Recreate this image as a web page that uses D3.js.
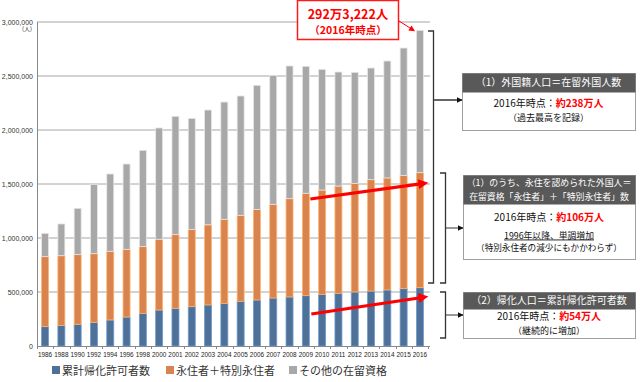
<!DOCTYPE html>
<html><head><meta charset="utf-8">
<script src="https://cdn.jsdelivr.net/npm/d3@7"></script>
<style>body{margin:0;background:#fff} svg{display:block}</style>
</head><body><svg id="c" width="640" height="382"></svg>
<script>
// ---- data ----
const years = ["1986","1988","1990","1992","1994","1996","1998","2000","2001","2002","2003","2004","2005","2006","2007","2008","2009","2010","2011","2012","2013","2014","2015","2016"];
const naturalized = [179000,191000,201000,219000,241000,268000,302000,333000,349000,364000,380000,395000,414000,426000,444000,454000,466000,478000,488000,500000,509000,519000,531000,540000];
const permanent = [648000,645000,645000,636000,636000,627000,618000,655000,682000,716000,742000,778000,796000,839000,868000,910000,948000,966000,993000,1006000,1031000,1037000,1049000,1065000];
const other = [216000,294000,429000,642000,716000,790000,892000,1031000,1096000,1028000,1063000,1086000,1105000,1149000,1194000,1229000,1176000,1118000,1056000,1028000,1034000,1083000,1179000,1318000];
const yTicks = [0,500000,1000000,1500000,2000000,2500000,3000000];
const seriesNames = ["累計帰化許可者数","永住者＋特別永住者","その他の在留資格"];
const seriesKeys = ["naturalized","permanent","other"];
const colors = ["#4f7198","#d9844f","#a8a8a8"];

const svg = d3.select("#c");
const JP = "'Noto Sans CJK JP','Noto Sans',sans-serif";
const NUM = "'Liberation Sans',Arial,sans-serif";

const table = years.map((y,i)=>({year:y, naturalized:naturalized[i], permanent:permanent[i], other:other[i]}));
const stack = d3.stack().keys(seriesKeys)(table);

const x = d3.scaleBand().domain(years).range([37,428]).paddingInner(0.57).paddingOuter(0.28);
const y = d3.scaleLinear().domain([0,3000000]).range([346,22]);

// grid
svg.append("g").selectAll("line").data(yTicks.filter(d=>d>0)).join("line")
  .attr("x1",37).attr("x2",430).attr("y1",d=>y(d)).attr("y2",d=>y(d))
  .attr("stroke","#a6a6a6").attr("stroke-width",1);

// bars
const g = svg.append("g");
stack.forEach((s,si)=>{
  g.append("g").selectAll("rect").data(s).join("rect")
    .attr("x",d=>x(d.data.year)).attr("width",x.bandwidth())
    .attr("y",d=>y(d[1])).attr("height",d=>y(d[0])-y(d[1]))
    .attr("fill",colors[si])
    .attr("stroke",d3.color(colors[si]).brighter(0.9))
    .attr("stroke-width",0.8);
});

// y axis
svg.append("line").attr("x1",37.5).attr("x2",37.5).attr("y1",y(3000000)).attr("y2",y(0)).attr("stroke","#888");
svg.append("g").selectAll("text").data(yTicks).join("text")
  .attr("x",33).attr("y",d=>y(d)+2.5).attr("text-anchor","end")
  .attr("font-family",NUM).attr("font-size",7).attr("fill","#333")
  .text(d=>d3.format(",")(d));
svg.append("text").attr("x",27).attr("y",31).attr("text-anchor","middle")
  .attr("font-family",JP).attr("font-size",6).attr("fill","#333").text("(人)");

// x axis
svg.append("line").attr("x1",37).attr("x2",430).attr("y1",346.5).attr("y2",346.5).attr("stroke","#888");
const step = x.step();
svg.append("g").selectAll("line").data(years.concat(["end"])).join("line")
  .attr("x1",(d,i)=>Math.round(x.range()[0]+i*step)+0.5).attr("x2",(d,i)=>Math.round(x.range()[0]+i*step)+0.5)
  .attr("y1",346).attr("y2",349).attr("stroke","#888");
svg.append("g").selectAll("text").data(years).join("text")
  .attr("x",d=>x(d)+x.bandwidth()/2).attr("y",357).attr("text-anchor","middle")
  .attr("font-family",NUM).attr("font-size",6.4).attr("fill","#222").text(d=>d);

// legend
const legX = [52,166,289];
seriesNames.forEach((n,i)=>{
  svg.append("rect").attr("x",legX[i]).attr("y",366).attr("width",8).attr("height",8).attr("fill",colors[i]);
  svg.append("text").attr("x",legX[i]+10).attr("y",375).attr("font-family",JP).attr("font-size",11)
    .attr("fill","#333").text(n);
});

// markers
const defs = svg.append("defs");
defs.append("marker").attr("id","redHead").attr("viewBox","0 0 10 10").attr("refX",2).attr("refY",5)
  .attr("markerWidth",11).attr("markerHeight",10).attr("markerUnits","userSpaceOnUse").attr("orient","auto")
  .append("path").attr("d","M0,0L10,5L0,10Z").attr("fill","#ff0000");
defs.append("marker").attr("id","redSmall").attr("viewBox","0 0 10 10").attr("refX",8).attr("refY",5)
  .attr("markerWidth",7).attr("markerHeight",6).attr("markerUnits","userSpaceOnUse").attr("orient","auto")
  .append("path").attr("d","M0,0L10,5L0,10Z").attr("fill","#ff0000");
defs.append("marker").attr("id","blkHead").attr("viewBox","0 0 10 10").attr("refX",9).attr("refY",5)
  .attr("markerWidth",6).attr("markerHeight",6).attr("markerUnits","userSpaceOnUse").attr("orient","auto")
  .append("path").attr("d","M0,0L10,5L0,10Z").attr("fill","#111");

// red trend arrows (positions via scales)
const redArrows = [
  {x1:x("2009")+x.bandwidth()+1, v1:1361000, x2:x("2016")+x.bandwidth()+3, v2:1509000},
  {x1:x("2009")+x.bandwidth()+2, v1:296000, x2:x("2016")+x.bandwidth()+3, v2:454000}
];
redArrows.forEach(a=>{
  svg.append("line").attr("x1",a.x1).attr("y1",y(a.v1)).attr("x2",a.x2-6).attr("y2",y(a.v2)+0.8)
    .attr("stroke","#ff0000").attr("stroke-width",3.2).attr("marker-end","url(#redHead)");
});

// top red box
svg.append("rect").attr("x",297.5).attr("y",0.5).attr("width",101).attr("height",39)
  .attr("fill","#fff").attr("stroke","#ff1a1a").attr("stroke-width",1.5);
svg.append("text").attr("x",348).attr("y",19).attr("text-anchor","middle").attr("font-family",JP)
  .attr("font-weight","bold").attr("font-size",12.5).attr("fill","#ff0000").text("292万3,222人");
svg.append("text").attr("x",348).attr("y",34).attr("text-anchor","middle").attr("font-family",JP)
  .attr("font-weight","bold").attr("font-size",10.5).attr("fill","#ff0000").text("（2016年時点）");
svg.append("line").attr("x1",399).attr("y1",21).attr("x2",414).attr("y2",30.5)
  .attr("stroke","#ff0000").attr("stroke-width",1).attr("marker-end","url(#redSmall)");

// brackets
const br = "#333";
svg.append("path").attr("d","M428,31H433.5V283H428").attr("fill","none").attr("stroke",br).attr("stroke-width",1.3);
svg.append("line").attr("x1",434).attr("x2",462).attr("y1",100).attr("y2",100).attr("stroke","#666").attr("stroke-width",2).attr("marker-end","url(#blkHead)");
svg.append("path").attr("d","M440,173H445.5V283H440").attr("fill","none").attr("stroke",br).attr("stroke-width",1.3);
svg.append("line").attr("x1",446).attr("x2",463).attr("y1",228).attr("y2",228).attr("stroke","#333").attr("stroke-width",1).attr("marker-end","url(#blkHead)");
svg.append("path").attr("d","M440,292H445.5V338H440").attr("fill","none").attr("stroke",br).attr("stroke-width",1.3);
svg.append("line").attr("x1",446).attr("x2",463).attr("y1",315).attr("y2",315).attr("stroke","#333").attr("stroke-width",1).attr("marker-end","url(#blkHead)");

// boxes
function box(x0,y0,w,h,hh,headLines,headSize){
  svg.append("rect").attr("x",x0+0.5).attr("y",y0+0.5).attr("width",w).attr("height",h)
    .attr("fill","#fff").attr("stroke","#a0a0a0").attr("stroke-width",1);
  svg.append("rect").attr("x",x0+0.5).attr("y",y0+0.5).attr("width",w).attr("height",hh).attr("fill","#595959");
  headLines.forEach((t,i)=>{
    const tx = svg.append("text").attr("x",x0+w/2).attr("y",y0+hh/(headLines.length)*(i+0.5)+headSize*0.37)
      .attr("text-anchor","middle").attr("font-family",JP).attr("font-size",headSize).attr("fill","#fff").text(t);
    const L = tx.node().getComputedTextLength();
    if(L > w-6){ tx.attr("textLength",w-6).attr("lengthAdjust","spacingAndGlyphs"); }
  });
}
function bodyLine(cx,yy,parts,size,underline){
  const els = parts.map(p=>{
    const t = svg.append("text").attr("y",yy).attr("font-family",JP).attr("font-size",size)
      .attr("fill",p.red?"#ff0000":"#111").text(p.t);
    if(p.red) t.attr("font-weight","bold");
    if(underline) t.attr("text-decoration","underline");
    return t;
  });
  const widths = els.map(e=>e.node().getComputedTextLength());
  let xx = cx - d3.sum(widths)/2;
  els.forEach((e,i)=>{ e.attr("x",xx); xx += widths[i]; });
}
box(462,73,173,57,19,["（1）外国籍人口＝在留外国人数"],10);
bodyLine(548.5,107,[{t:"2016年時点："},{t:"約238万人",red:true}],10);
bodyLine(548.5,121,[{t:"（過去最高を記録）"}],9);

box(463,175,172,84,29,["（1）のうち、永住を認められた外国人＝","在留資格「永住者」＋「特別永住者」数"],8.9);
bodyLine(549,221,[{t:"2016年時点："},{t:"約106万人",red:true}],10);
bodyLine(549,238.5,[{t:"1996年以降、単調増加"}],8.8,true);
bodyLine(549,251,[{t:"（特別永住者の減少にもかかわらず）"}],8.6);

box(463,292,172,46,17,["（2）帰化人口＝累計帰化許可者数"],10);
bodyLine(549,320,[{t:"2016年時点："},{t:"約54万人",red:true}],10);
bodyLine(549,333.5,[{t:"（継続的に増加）"}],9);
</script></body></html>
